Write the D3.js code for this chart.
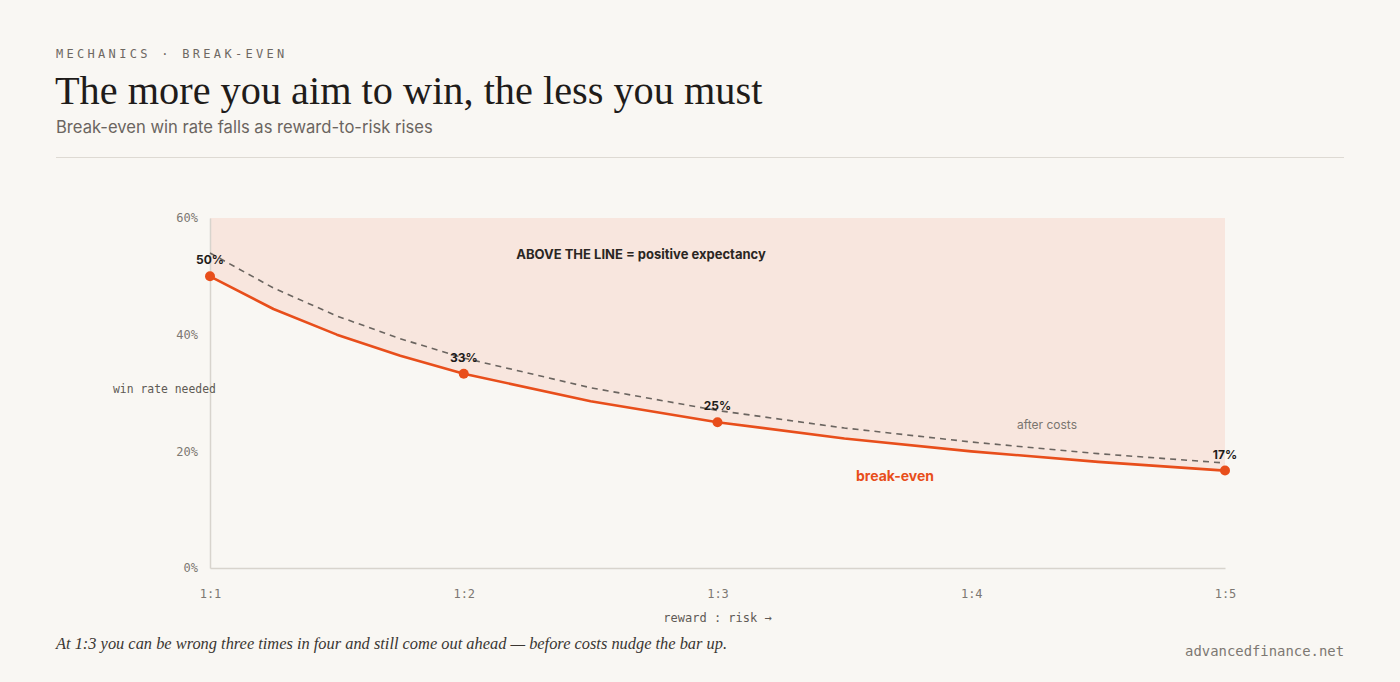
<!DOCTYPE html>
<html><head><meta charset="utf-8">
<script src="https://cdn.jsdelivr.net/npm/d3@7"></script>
<style>
html,body{margin:0;padding:0;background:#f9f7f3;}
svg{display:block;}
</style></head>
<body>
<svg id="chart" width="1400" height="682"></svg>
<script>
// Data
const ratios = [1, 1.25, 1.5, 1.75, 2, 2.5, 3, 3.5, 4, 4.5, 5];
const breakEven = [50, 44.4, 40, 36.4, 33.3, 28.6, 25, 22.2, 20, 18.2, 16.7];
const afterCosts = [54, 48, 43.2, 39.3, 36, 30.9, 27, 24, 21.6, 19.6, 18];
const xTickValues = [1, 2, 3, 4, 5];
const xTickLabels = ["1:1", "1:2", "1:3", "1:4", "1:5"];
const yTickValues = [0, 20, 40, 60];
const dotRatios = [1, 2, 3, 5];
const dotLabels = ["50%", "33%", "25%", "17%"];

const svg = d3.select("#chart");
const W = 1400, H = 682;
svg.append("rect").attr("width", W).attr("height", H).attr("fill", "#f9f7f3");

const mono = "'DejaVu Sans Mono', 'Liberation Mono', monospace";
const sans = "Inter, 'Noto Sans', sans-serif";
const serif = "'Liberation Serif', 'DejaVu Serif', serif";

// Header
svg.append("text").attr("x", 56).attr("y", 58).text("MECHANICS · BREAK-EVEN")
  .attr("font-family", mono).attr("font-size", 12).attr("letter-spacing", "3.3px").attr("fill", "#6e6862");
svg.append("text").attr("x", 55).attr("y", 104).text("The more you aim to win, the less you must")
  .attr("font-family", serif).attr("font-size", 40.3).attr("fill", "#1f1c1a");
svg.append("text").attr("x", 56).attr("y", 133).text("Break-even win rate falls as reward-to-risk rises")
  .attr("font-family", sans).attr("font-size", 16.6).attr("fill", "#6b6560");
svg.append("line").attr("x1", 56).attr("x2", 1344).attr("y1", 157.5).attr("y2", 157.5)
  .attr("stroke", "#dedad3").attr("stroke-width", 1);

// Scales
const x = d3.scaleLinear().domain([1, 5]).range([210, 1225]);
const y = d3.scaleLinear().domain([0, 60]).range([568, 218]);

const data = ratios.map((r, i) => ({ r, be: breakEven[i], ac: afterCosts[i] }));

// Shaded area above the line
const area = d3.area().x(d => x(d.r)).y0(y(60)).y1(d => y(d.be));
svg.append("path").datum(data).attr("d", area).attr("fill", "#f8e6de");

// Axes
const gx = svg.append("g").attr("transform", `translate(0,${y(0)})`)
  .call(d3.axisBottom(x).tickValues(xTickValues).tickFormat((d, i) => xTickLabels[i]).tickSize(0).tickPadding(21));
const gy = svg.append("g").attr("transform", `translate(${x(1)},0)`)
  .call(d3.axisLeft(y).tickValues(yTickValues).tickFormat(d => d + "%").tickSize(0).tickPadding(12));
[gx, gy].forEach(g => {
  g.select(".domain").attr("stroke", "#d8d4cd").attr("stroke-width", 1.5);
  g.selectAll("text").attr("font-family", mono).attr("font-size", 12).attr("fill", "#7d7872");
});
gy.selectAll("text").attr("dy", "0.32em");

// Axis titles
svg.append("text").attr("x", 113).attr("y", 393).text("win rate needed")
  .attr("font-family", mono).attr("font-size", 11.4).attr("fill", "#5f5a55");
svg.append("text").attr("x", x(3)).attr("y", 622).attr("text-anchor", "middle").text("reward : risk →")
  .attr("font-family", mono).attr("font-size", 12).attr("fill", "#5f5a55");

// Lines
const lineAC = d3.line().x(d => x(d.r)).y(d => y(d.ac));
const lineBE = d3.line().x(d => x(d.r)).y(d => y(d.be));
svg.append("path").datum(data).attr("d", lineAC).attr("fill", "none")
  .attr("stroke", "#6b6560").attr("stroke-width", 1.6).attr("stroke-dasharray", "6,5");
svg.append("path").datum(data).attr("d", lineBE).attr("fill", "none")
  .attr("stroke", "#e84e1b").attr("stroke-width", 2.6).attr("stroke-linejoin", "round");

// Dots & labels
dotRatios.forEach((r, i) => {
  const v = breakEven[ratios.indexOf(r)];
  svg.append("circle").attr("cx", x(r)).attr("cy", y(v)).attr("r", 5).attr("fill", "#e84e1b");
  svg.append("text").attr("x", x(r)).attr("y", y(v) - 12).attr("text-anchor", "middle").text(dotLabels[i])
    .attr("font-family", sans).attr("font-weight", 700).attr("font-size", 12).attr("fill", "#1f1c1a");
});

// Annotations
svg.append("text").attr("x", 641).attr("y", 259).attr("text-anchor", "middle").text("ABOVE THE LINE = positive expectancy")
  .attr("font-family", sans).attr("font-weight", 700).attr("font-size", 13).attr("fill", "#2a2623");
svg.append("text").attr("x", 1047).attr("y", 429).attr("text-anchor", "middle").text("after costs")
  .attr("font-family", sans).attr("font-size", 12).attr("fill", "#7a756f");
svg.append("text").attr("x", 895).attr("y", 481).attr("text-anchor", "middle").text("break-even")
  .attr("font-family", sans).attr("font-weight", 700).attr("font-size", 14).attr("fill", "#e84e1b");

// Footer
svg.append("text").attr("x", 56).attr("y", 649).text("At 1:3 you can be wrong three times in four and still come out ahead — before costs nudge the bar up.")
  .attr("font-family", serif).attr("font-style", "italic").attr("font-size", 16.4).attr("fill", "#3a3632");
svg.append("text").attr("x", 1344).attr("y", 656).attr("text-anchor", "end").text("advancedfinance.net")
  .attr("font-family", mono).attr("font-size", 13.9).attr("fill", "#7d7872");
</script>
</body></html>
